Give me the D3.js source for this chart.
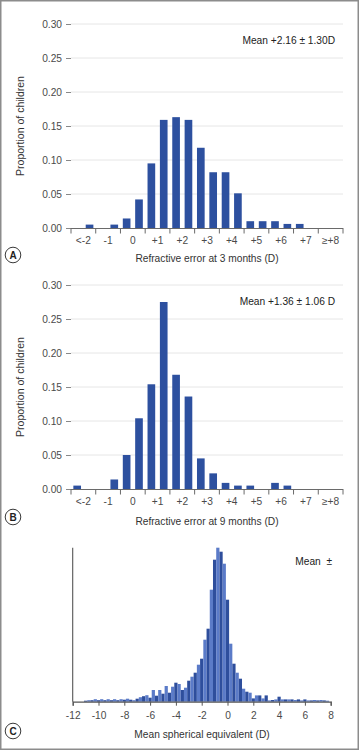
<!DOCTYPE html>
<html><head><meta charset="utf-8">
<script src="https://cdn.jsdelivr.net/npm/d3@7"></script>
<style>
html,body{margin:0;padding:0;background:#fff;}
svg{display:block;font-family:"Liberation Sans",Arial,Helvetica,sans-serif;}
</style></head><body>
<svg id="chart" width="359" height="750"></svg>
<script>
// ---------- data ----------
const categories = ["<-2","-1","0","+1","+2","+3","+4","+5","+6","+7","≥+8"];
const yTicks = [0, 0.05, 0.10, 0.15, 0.20, 0.25, 0.30];
// proportion of children in each half-dioptre bin (two bins per category)
const refraction3m = [0, 0.005, 0, 0.005, 0.014, 0.042, 0.095, 0.159, 0.163, 0.159, 0.118,
                      0.082, 0.082, 0.051, 0.010, 0.010, 0.010, 0.006, 0.006, 0, 0, 0];
const refraction9m = [0.005, 0, 0, 0.014, 0.050, 0.104, 0.154, 0.275, 0.168, 0.136, 0.045,
                      0.023, 0.009, 0.005, 0.005, 0, 0.009, 0.005, 0, 0, 0, 0];
const meanText3m = "Mean +2.16 \u00B1 1.30D";
const meanText9m = "Mean +1.36 \u00B1 1.06 D";
const meanTextSE = "Mean  \u00B1";
const sphereTicks = [-12, -10, -8, -6, -4, -2, 0, 2, 4, 6, 8];
const sphereBinWidth = 0.25;
const sphereCenters = d3.range(-11, 8, sphereBinWidth);
// relative frequency (arbitrary units) of each 0.25 D bin, from -11 D to +7.75 D
const sphereValues = [
  1, 1.5, 1.5, 2.5, 1.5, 2.5, 1.5, 2.5, 1.5, 2.5,
  1.5, 2.5, 2, 3, 2, 1.5, 3, 4.5, 5.5, 6.5,
  4, 11.7, 6, 11.7, 8, 15.7, 9, 15, 19, 17.7,
  11.7, 14, 21, 25, 29, 37, 43, 62, 73, 112,
  142, 154, 150, 138, 102, 58, 38, 29, 23, 13,
  10, 9, 3.3, 6.3, 6.3, 3.3, 6.3, 1.3, 1.7, 2.3,
  5, 2.3, 2.3, 2.3, 2.3, 1.7, 2.3, 1.3, 2.3, 1.3,
  1.3, 1.7, 1.3, 1.7, 1.3, 1
];

// ---------- styles ----------
const barColor = "#2d509f";
const darkBar = "#2e4e9c";
const lightBar = "#5b7bc8";
const gridColor = "#e6e6e6";
const axisColor = "#6a6a6a";
const textColor = "#4a4a4a";
const titleColor = "#333";

const svg = d3.select("#chart");

// outer frame
svg.append("rect").attr("x", 0.75).attr("y", 0.75).attr("width", 357.5).attr("height", 748.5)
  .attr("fill", "none").attr("stroke", "#8c8c8c").attr("stroke-width", 1.5);

const halfBins = categories.flatMap(c => [c + "|lo", c + "|hi"]);
const plotLeft = 71, plotRight = 343;

function circleLabel(x, y, letter) {
  const g = svg.append("g").attr("transform", `translate(${x},${y})`);
  g.append("circle").attr("r", 7.8).attr("fill", "#fff").attr("stroke", "#3a3a3a").attr("stroke-width", 1);
  g.append("text").attr("text-anchor", "middle").attr("dy", "0.36em")
    .attr("font-size", 10).attr("font-weight", "bold").attr("fill", "#222").text(letter);
}

function drawPanel(values, top, bottom, meanText, xTitle, letter, meanY, titleY, letterY) {
  const y = d3.scaleLinear().domain([0, 0.30]).range([bottom, top]);
  const xCat = d3.scaleBand().domain(categories).range([plotLeft, plotRight]);
  const xBin = d3.scaleBand().domain(halfBins).range([plotLeft, plotRight]).paddingInner(0.38).paddingOuter(0.19);
  const g = svg.append("g");

  // gridlines
  g.append("g").selectAll("line").data(yTicks.filter(d => d > 0)).join("line")
    .attr("x1", plotLeft).attr("x2", plotRight)
    .attr("y1", d => y(d)).attr("y2", d => y(d))
    .attr("stroke", gridColor).attr("stroke-width", 1);

  // y axis
  const ya = g.append("g").attr("transform", `translate(${plotLeft},0)`)
    .call(d3.axisLeft(y).tickValues(yTicks).tickFormat(d3.format(".2f")).tickSize(5).tickPadding(4));
  ya.select(".domain").remove();
  ya.selectAll("line").attr("stroke", "#888");
  ya.selectAll("text").attr("font-size", 10.2).attr("fill", textColor).attr("font-family", null);

  // bars
  g.append("g").selectAll("rect").data(values.map((v, i) => ({ bin: halfBins[i], v })))
    .join("rect")
    .attr("x", d => xBin(d.bin)).attr("width", xBin.bandwidth())
    .attr("y", d => y(d.v)).attr("height", d => y(0) - y(d.v))
    .attr("fill", barColor);

  // x axis baseline + boundary ticks
  g.append("line").attr("x1", plotLeft).attr("x2", plotRight)
    .attr("y1", y(0) + 0.5).attr("y2", y(0) + 0.5).attr("stroke", axisColor).attr("stroke-width", 1.2);
  const edges = categories.map(c => xCat(c)).concat([xCat(categories[categories.length - 1]) + xCat.bandwidth()]);
  g.append("g").selectAll("line").data(edges).join("line")
    .attr("x1", d => d).attr("x2", d => d)
    .attr("y1", y(0)).attr("y2", y(0) + 5.5)
    .attr("stroke", axisColor).attr("stroke-width", 1);

  const xa = g.append("g").attr("transform", `translate(0,${y(0)})`)
    .call(d3.axisBottom(xCat).tickSize(0).tickPadding(9));
  xa.select(".domain").remove();
  xa.selectAll("text").attr("font-size", 10.2).attr("fill", textColor).attr("font-family", null);

  // axis titles
  g.append("text").attr("transform", `translate(23.5,${(top + bottom) / 2}) rotate(-90)`)
    .attr("text-anchor", "middle").attr("font-size", 10.5).attr("fill", titleColor)
    .text("Proportion of children");
  g.append("text").attr("x", (plotLeft + plotRight) / 2).attr("y", titleY)
    .attr("text-anchor", "middle").attr("font-size", 10.2).attr("fill", titleColor).text(xTitle);

  g.append("text").attr("x", 335).attr("y", meanY).attr("text-anchor", "end")
    .attr("font-size", 10.2).attr("fill", "#222").text(meanText);

  circleLabel(13, letterY, letter);
}

drawPanel(refraction3m, 24, 228, meanText3m, "Refractive error at 3 months (D)", "A", 43.6, 262, 255);
drawPanel(refraction9m, 285, 489, meanText9m, "Refractive error at 9 months (D)", "B", 305.3, 524.6, 517);

// ---------- panel C ----------
(function () {
  const x = d3.scaleLinear().domain([-12, 8]).range([72.7, 330.7]);
  const y = d3.scaleLinear().domain([0, 154]).range([701.7, 547.7]);
  const g = svg.append("g");
  g.append("g").selectAll("rect").data(sphereCenters.map((c, i) => ({ c, v: sphereValues[i], i })))
    .join("rect")
    .attr("x", d => x(d.c - sphereBinWidth / 2))
    .attr("width", d => x(d.c + sphereBinWidth / 2) - x(d.c - sphereBinWidth / 2))
    .attr("y", d => y(d.v)).attr("height", d => y(0) - y(d.v))
    .attr("fill", d => d.i % 2 === 1 ? lightBar : darkBar);

  // y axis line
  g.append("line").attr("x1", x(-12)).attr("x2", x(-12)).attr("y1", y.range()[1]).attr("y2", y(0))
    .attr("stroke", "#555").attr("stroke-width", 1.1);
  const xa = g.append("g").attr("transform", `translate(0,${y(0)})`)
    .call(d3.axisBottom(x).tickValues(sphereTicks).tickFormat(d3.format("d")).tickSize(4).tickPadding(6.5));
  xa.select(".domain").attr("stroke", "#555").attr("stroke-width", 1.2);
  xa.selectAll("line").attr("stroke", "#555");
  xa.selectAll("text").attr("font-size", 10.2).attr("fill", textColor).attr("font-family", null)
    .text(d => d < 0 ? "-" + Math.abs(d) : String(d));

  g.append("text").attr("x", 202).attr("y", 737.6).attr("text-anchor", "middle")
    .attr("font-size", 10.2).attr("fill", titleColor).text("Mean spherical equivalent (D)");
  g.append("text").attr("x", 332).attr("y", 564.6).attr("text-anchor", "end")
    .attr("font-size", 10.2).attr("fill", "#222").attr("xml:space", "preserve").text(meanTextSE);
  circleLabel(13, 731, "C");
})();
</script>
</body></html>
